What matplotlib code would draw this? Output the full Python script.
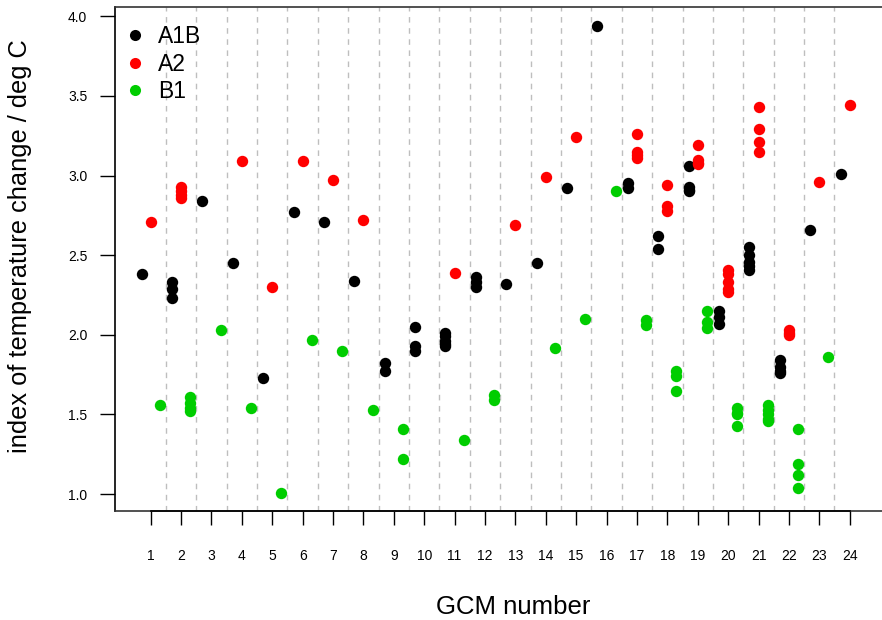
import matplotlib
matplotlib.use("Agg")
import matplotlib.pyplot as plt
from matplotlib.lines import Line2D

plt.rcParams['font.family'] = ['Liberation Sans', 'DejaVu Sans']

gcm = list(range(1, 25))
a1b = [[2.38], [2.33, 2.29, 2.23], [2.84], [2.45], [1.73], [2.77], [2.71], [2.34],
       [1.82, 1.77], [2.05, 1.93, 1.90], [2.01, 1.99, 1.96, 1.94, 1.93], [2.36, 2.33, 2.30],
       [2.32], [2.45], [2.92], [3.94], [2.95, 2.92], [2.62, 2.54],
       [3.06, 2.93, 2.91, 2.90], [2.15, 2.11, 2.07], [2.55, 2.50, 2.46, 2.43, 2.41],
       [1.84, 1.80, 1.77, 1.76], [2.66], [3.01]]
a2 = [[2.71], [2.93, 2.90, 2.88, 2.86], [], [3.09], [2.30], [3.09], [2.97], [2.72],
      [], [], [2.39], [],
      [2.69], [2.99], [3.24], [], [3.26, 3.15, 3.13, 3.11], [2.94, 2.81, 2.78],
      [3.19, 3.10, 3.08, 3.07], [2.41, 2.38, 2.33, 2.29, 2.27], [3.43, 3.29, 3.21, 3.15],
      [2.03, 2.01, 2.00], [2.96], [3.44]]
b1 = [[1.56], [1.61, 1.57, 1.54, 1.52], [2.03], [1.54], [1.01], [1.97], [1.90], [1.53],
      [1.41, 1.22], [], [1.34], [1.62, 1.59],
      [], [1.92], [2.10], [2.90], [2.09, 2.06], [1.77, 1.74, 1.65],
      [2.15, 2.08, 2.04], [1.54, 1.51, 1.50, 1.43], [1.56, 1.53, 1.50, 1.47, 1.46],
      [1.41, 1.19, 1.12, 1.04], [1.86], []]
scenarios = ["A1B", "A2", "B1"]
y_ticks = [1.0, 1.5, 2.0, 2.5, 3.0, 3.5, 4.0]

colors = {"A1B": "black", "A2": "#FF0000", "B1": "#00CD00"}
offsets = {"A1B": -0.3, "A2": 0.0, "B1": 0.3}
series = {"A1B": a1b, "A2": a2, "B1": b1}

fig = plt.figure(figsize=(8.82, 6.2), dpi=100)
W, H = 882, 620
left_px, right_px, top_px, bot_px = 114.7, 886, 7, 510.5
ax = fig.add_axes([left_px / W, 1 - bot_px / H, (right_px - left_px) / W, (bot_px - top_px) / H])

ax.set_xlim(-0.185, 25.195)
ax.set_ylim(0.897, 4.058)

for x in range(1, 24):
    ax.axvline(x + 0.5, color="#BEBEBE", lw=1.0, ls=(0, (4, 4)), zorder=1)

for s in scenarios:
    xs, ys = [], []
    for g, vals in zip(gcm, series[s]):
        for v in vals:
            xs.append(g + offsets[s])
            ys.append(v)
    ax.plot(xs, ys, ls="none", marker="o", ms=8.2, mec="none",
            color=colors[s], zorder=3)

ax.spines["right"].set_visible(False)
for sp in ["top", "bottom", "left"]:
    ax.spines[sp].set_color("#333333")
    ax.spines[sp].set_linewidth(1.2)
ax.spines["left"].set_color("black")

# axis line from first to last tick
ax.plot([1, 24], [0.897, 0.897], color="black", lw=1.2, clip_on=False, zorder=4)

ax.set_xticks(gcm)
ax.set_xticklabels([str(g) for g in gcm], fontsize=10)
ax.tick_params(axis="x", length=10, width=1.0, pad=18, colors="black")
ax.set_yticks(y_ticks)
ax.set_yticklabels([f"{v:.1f}" for v in y_ticks], fontsize=10)
ax.tick_params(axis="y", length=10.8, width=1.0, pad=9, colors="black")

fig.text(513 / W, 1 - 607 / H, "GCM number", fontsize=18.5, ha="center", va="center")
fig.text(20 / W, 1 - 246 / H, "index of temperature change / deg C", fontsize=18.3,
         ha="center", va="center", rotation=90)

handles = [Line2D([], [], ls="none", marker="o", ms=8, mec="none", color=colors[s]) for s in scenarios]
leg = ax.legend(handles, scenarios, loc="upper left", frameon=False, fontsize=16.5,
                bbox_to_anchor=(-0.0091, 0.996), handlelength=1.0, handletextpad=0.5,
                labelspacing=0.2, borderaxespad=0.3, borderpad=0.4)

fig.savefig("out.png", dpi=100)
